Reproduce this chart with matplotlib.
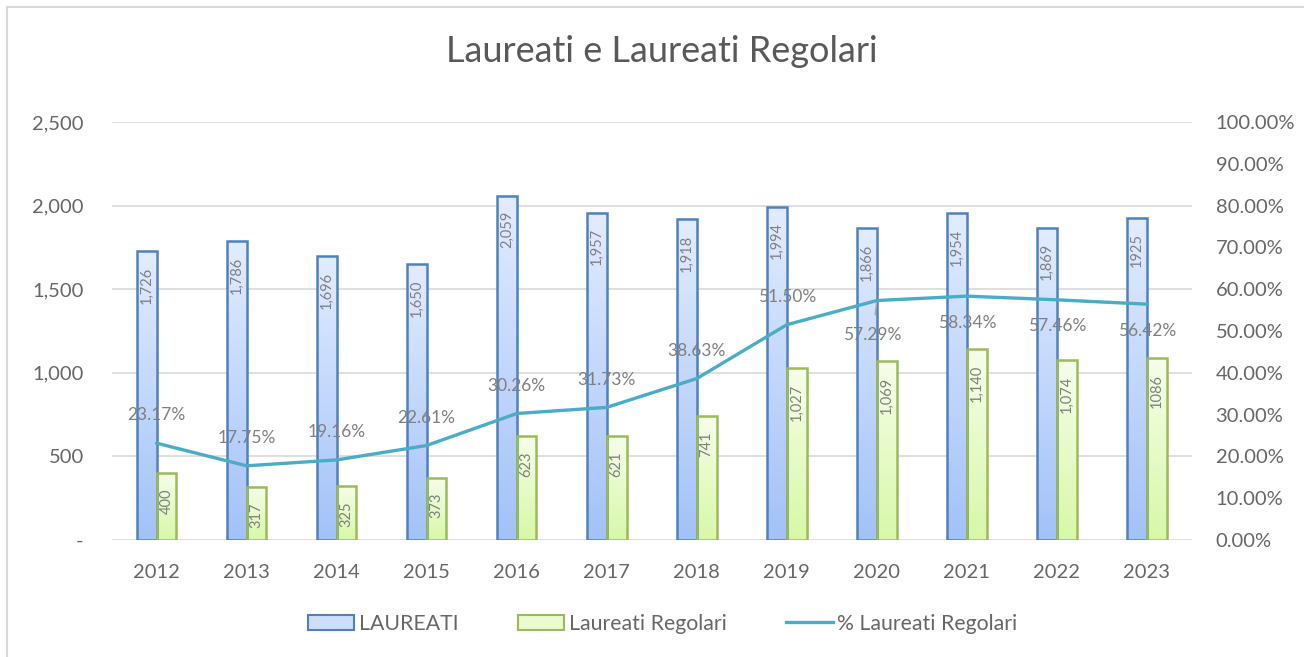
import numpy as np
import matplotlib
matplotlib.use("Agg")
import matplotlib.pyplot as plt
from matplotlib.patches import Patch
from matplotlib.lines import Line2D
from matplotlib.colors import LinearSegmentedColormap

plt.rcParams['font.family'] = ['Lato', 'DejaVu Sans']

# ============================================================
# Dati
# ============================================================
anni = ['2012', '2013', '2014', '2015', '2016', '2017',
        '2018', '2019', '2020', '2021', '2022', '2023']
laureati = [1726, 1786, 1696, 1650, 2059, 1957, 1918, 1994, 1866, 1954, 1869, 1925]
regolari = [400, 317, 325, 373, 623, 621, 741, 1027, 1069, 1140, 1074, 1086]
perc_regolari = [23.17, 17.75, 19.16, 22.61, 30.26, 31.73, 38.63, 51.50,
                 57.29, 58.34, 57.46, 56.42]
lab_laureati = ['1,726', '1,786', '1,696', '1,650', '2,059', '1,957',
                '1,918', '1,994', '1,866', '1,954', '1,869', '1925']
lab_regolari = ['400', '317', '325', '373', '623', '621',
                '741', '1,027', '1,069', '1,140', '1,074', '1086']

# ============================================================
# Stile
# ============================================================
GRAY_TXT = '#7f7f7f'
TICK_TXT = '#666666'
BLUE_EDGE = '#4f81bd'
GREEN_EDGE = '#9bbb59'
LINE_COL = '#4bacc6'
blue_cmap = LinearSegmentedColormap.from_list('b', ['#a3c2f7', '#e2ecfe'])
green_cmap = LinearSegmentedColormap.from_list('g', ['#d8f8a8', '#f6fdea'])

W, H = 1304, 657
fig = plt.figure(figsize=(W / 100, H / 100), dpi=100)

# cornice del grafico
fig.add_artist(Line2D([7 / W, 7 / W], [0, 1 - 7 / H], color='#d9d9d9', lw=1.5))
fig.add_artist(Line2D([7 / W, 1], [1 - 7 / H, 1 - 7 / H], color='#d9d9d9', lw=1.5))

ax = fig.add_axes([111.5 / W, (H - 540) / H, (1192 - 111.5) / W, (540 - 122) / H])
ax2 = ax.twinx()

x = np.arange(len(anni))
bw = 0.22
grad = np.linspace(0, 1, 100).reshape(-1, 1)


def gradient_bars(xs, vals, cmap, edge):
    # barre con sfumatura verticale
    for xi, v in zip(xs, vals):
        ax.imshow(grad, cmap=cmap, origin='lower', aspect='auto',
                  extent=[xi - bw / 2, xi + bw / 2, 0, v], zorder=2)
    ax.bar(xs, vals, width=bw, facecolor='none', edgecolor=edge,
           linewidth=1.8, zorder=3)


gradient_bars(x - bw / 2, laureati, blue_cmap, BLUE_EDGE)
gradient_bars(x + bw / 2, regolari, green_cmap, GREEN_EDGE)

for xi, v, s in zip(x - bw / 2, laureati, lab_laureati):
    ax.annotate(s, (xi, v), xytext=(0, -11), textcoords='offset points',
                rotation=90, ha='center', va='top', fontsize=10.5,
                color=GRAY_TXT, zorder=4)
for xi, v, s in zip(x + bw / 2, regolari, lab_regolari):
    ax.annotate(s, (xi, v), xytext=(0, -11), textcoords='offset points',
                rotation=90, ha='center', va='top', fontsize=10.5,
                color=GRAY_TXT, zorder=4)

ax.set_xlim(-0.5, 11.5)
ax.set_ylim(0, 2500)
ax.set_yticks(np.arange(0, 2501, 500))
ax.set_yticklabels(['-' if v == 0 else f'{v:,}' for v in range(0, 2501, 500)])
ax.set_xticks(x)
ax.set_xticklabels(anni)
ax.grid(axis='y', color='#d9d9d9', linewidth=1.2, zorder=0)
ax.set_axisbelow(True)
ax.tick_params(axis='both', length=0, labelsize=14.5, labelcolor=TICK_TXT)
ax.tick_params(axis='x', pad=17)
ax.tick_params(axis='y', pad=20)
for sp in ax.spines.values():
    sp.set_visible(False)

# linea percentuale
p = np.array(perc_regolari) / 100
ax2.plot(x, p, color=LINE_COL, linewidth=2.4, solid_capstyle='round', zorder=5)
ax2.set_ylim(0, 1)
ax2.set_yticks(np.arange(0, 1.01, 0.1))
ax2.set_yticklabels([f'{v * 100:.2f}%' for v in np.arange(0, 1.01, 0.1)])
ax2.tick_params(axis='y', length=0, labelsize=14.5, labelcolor=TICK_TXT, pad=17)
for sp in ax2.spines.values():
    sp.set_visible(False)

for i, (xi, v) in enumerate(zip(x, p)):
    txt = f'{perc_regolari[i]:.2f}%'
    if i < 8:
        ax2.annotate(txt, (xi, v), xytext=(0, 20), textcoords='offset points',
                     ha='center', va='center', fontsize=12.5, color=GRAY_TXT)
    elif i == 8:
        ax2.annotate(txt, (xi, v), xytext=(-3, -25), textcoords='offset points',
                     ha='center', va='center', fontsize=12.5, color=GRAY_TXT,
                     arrowprops=dict(arrowstyle='-', color='#a6a6a6', lw=1,
                                     shrinkA=7, shrinkB=1))
    else:
        ax2.annotate(txt, (xi, v), xytext=(0, -19), textcoords='offset points',
                     ha='center', va='center', fontsize=12.5, color=GRAY_TXT)

fig.text(661.5 / W, 1 - 52 / H, 'Laureati e Laureati Regolari', ha='center',
         va='center', fontsize=26, color='#595959')

handles = [Patch(facecolor='#cddffb', edgecolor=BLUE_EDGE, linewidth=1.5),
           Patch(facecolor='#eafbd0', edgecolor=GREEN_EDGE, linewidth=1.5),
           Line2D([0], [0], color=LINE_COL, linewidth=2.4)]
leg = fig.legend(handles, ['LAUREATI', 'Laureati Regolari', '% Laureati Regolari'],
                 loc='center', bbox_to_anchor=(0.508, 1 - 624 / H), ncol=3,
                 frameon=False, fontsize=15.3, handlelength=2.2, handleheight=0.75,
                 handletextpad=0.2, columnspacing=2.8)
for t in leg.get_texts():
    t.set_color(TICK_TXT)

fig.savefig('out.png', dpi=100)
